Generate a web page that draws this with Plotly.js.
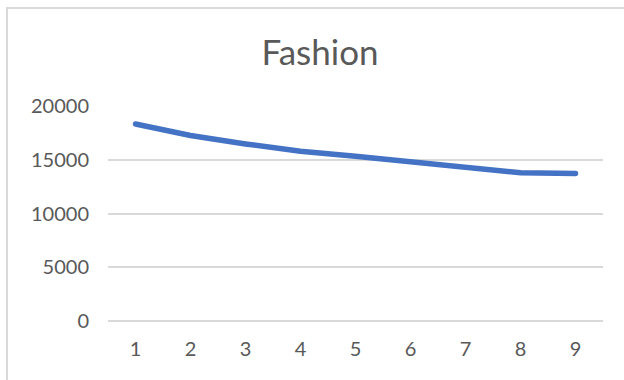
<!DOCTYPE html>
<html>
<head>
<meta charset="utf-8">
<script src="https://cdn.plot.ly/plotly-3.0.1.min.js"></script>
<style>
  html, body { margin: 0; padding: 0; background: #fff; overflow: hidden; }
  #chart { width: 624px; height: 380px; }
  #chart .scatterlayer path.js-line { stroke-linecap: round; }
</style>
</head>
<body>
<div id="chart"></div>
<script>
const categories = [1, 2, 3, 4, 5, 6, 7, 8, 9];
const fashionValues = [18320, 17250, 16470, 15790, 15320, 14810, 14280, 13780, 13720];
const yTickValues = [0, 5000, 10000, 15000, 20000];
const chartTitle = "Fashion";

const fontFamily = "Lato, Carlito, 'Liberation Sans', sans-serif";
const textColor = "#595959";
const gridColor = "#d9d9d9";

const trace = {
  x: categories,
  y: fashionValues,
  type: "scatter",
  mode: "lines",
  line: { color: "#4472C4", width: 5.5 },
  hoverinfo: "skip"
};

const layout = {
  width: 624,
  height: 380,
  margin: { l: 108, r: 21, t: 106, b: 59 },
  paper_bgcolor: "#ffffff",
  plot_bgcolor: "#ffffff",
  showlegend: false,
  title: {
    text: chartTitle,
    font: { family: fontFamily, size: 35, color: textColor },
    x: 320 / 624,
    xref: "container",
    xanchor: "center",
    y: 1 - 53 / 380,
    yref: "container",
    yanchor: "middle"
  },
  xaxis: {
    type: "linear",
    range: [0.5, 9.5],
    tickvals: categories,
    ticktext: categories.map(String),
    showgrid: false,
    zeroline: false,
    showline: false,
    ticks: "",
    ticklabelstandoff: 14,
    tickfont: { family: fontFamily, size: 20, color: textColor },
    fixedrange: true
  },
  yaxis: {
    range: [0, 20000],
    tickvals: yTickValues,
    ticktext: yTickValues.map(String),
    showgrid: true,
    gridcolor: gridColor,
    gridwidth: 2,
    zeroline: true,
    zerolinecolor: gridColor,
    zerolinewidth: 2,
    showline: false,
    ticks: "",
    ticklabelstandoff: 18,
    tickfont: { family: fontFamily, size: 20, color: textColor },
    fixedrange: true
  },
  shapes: [{
    type: "rect",
    xref: "paper",
    yref: "paper",
    x0: (7 - 108) / 495,
    x1: (640 - 108) / 495,
    y0: (321 - 400) / 215,
    y1: (321 - 8) / 215,
    line: { color: gridColor, width: 2 },
    fillcolor: "rgba(0,0,0,0)",
    layer: "below"
  }]
};

Plotly.newPlot("chart", [trace], layout, { staticPlot: true, displayModeBar: false });
</script>
</body>
</html>
